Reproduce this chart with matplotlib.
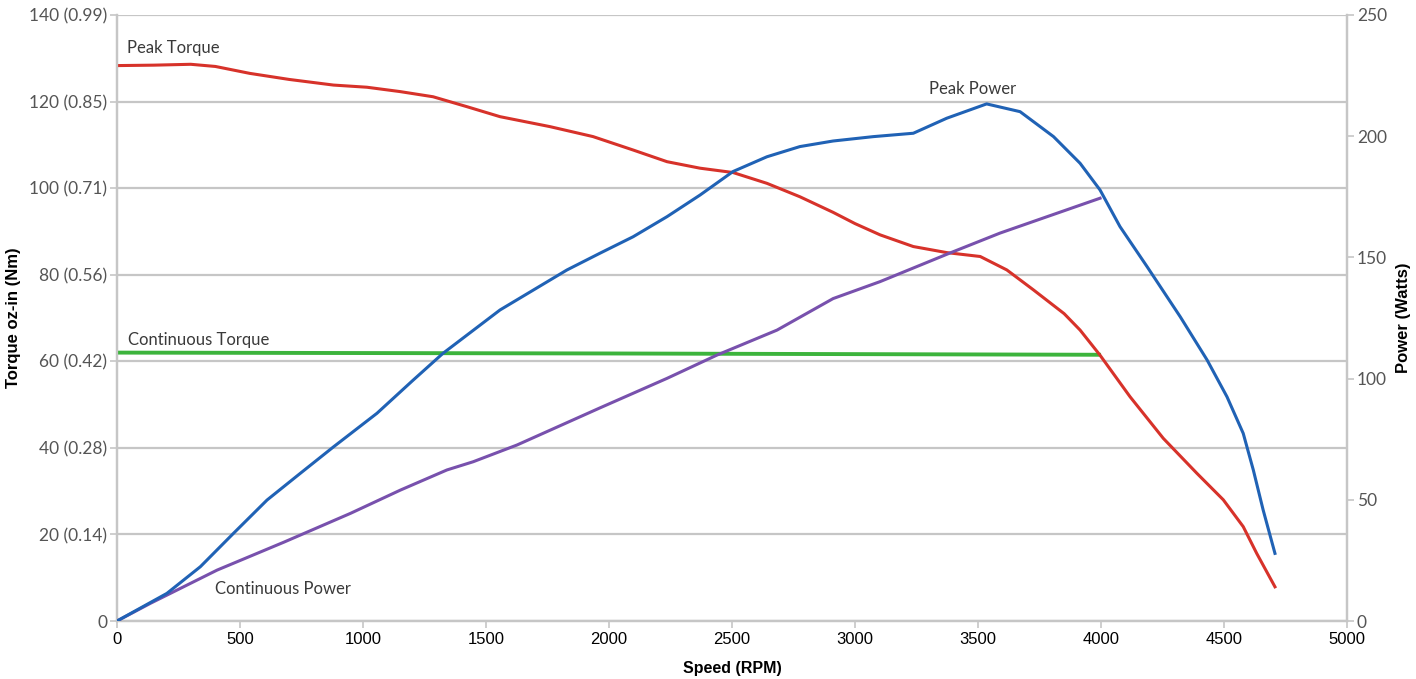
import matplotlib
matplotlib.use("Agg")
import matplotlib.pyplot as plt

# ---- data ----
peak_torque_rpm = [0, 150, 300, 400, 540, 700, 880, 1016, 1150, 1285, 1423, 1557, 1760, 1935,
                   2098, 2236, 2370, 2504, 2642, 2776, 2911, 3000, 3102, 3237, 3373, 3509, 3617,
                   3725, 3850, 3915, 3996, 4118, 4253, 4390, 4497, 4578, 4633, 4707]
peak_torque = [128.3, 128.4, 128.6, 128.1, 126.5, 125.1, 123.8, 123.3, 122.3, 121.1, 118.8, 116.5,
               114.2, 111.9, 108.8, 106.1, 104.6, 103.6, 101.1, 98.0, 94.4, 91.8, 89.2, 86.5, 85.1,
               84.2, 81.1, 76.5, 71.0, 67.2, 61.4, 51.8, 42.2, 34.1, 28.0, 21.8, 15.6, 7.9]

cont_torque_rpm = [0, 2000, 4000]
cont_torque = [62.0, 61.8, 61.5]

peak_power_rpm = [0, 203, 339, 474, 610, 745, 881, 1057, 1200, 1325, 1557, 1829, 1963, 2098,
                  2236, 2370, 2504, 2642, 2776, 2911, 3074, 3237, 3373, 3535, 3671, 3807, 3915,
                  3996, 4077, 4187, 4322, 4431, 4512, 4578, 4619, 4659, 4707]
peak_power = [0, 11.4, 22.4, 36.2, 49.9, 60.9, 71.9, 85.7, 99.0, 110.4, 128.3, 144.8, 151.7, 158.5,
              166.8, 175.7, 185.4, 191.5, 195.7, 198.0, 199.8, 201.2, 207.4, 213.3, 210.1, 199.8,
              188.8, 177.8, 162.7, 146.2, 125.5, 107.7, 92.5, 77.4, 62.3, 45.8, 27.9]

cont_power_rpm = [0, 136, 407, 678, 949, 1152, 1341, 1448, 1626, 1963, 2236, 2439, 2683, 2911,
                  3102, 3386, 3589, 3996]
cont_power = [0, 7.3, 21.0, 32.5, 44.4, 54.0, 62.3, 65.7, 72.6, 87.9, 100.1, 109.7, 120.0, 133.0,
              140.0, 151.8, 160.0, 174.4]

x_ticks = [0, 500, 1000, 1500, 2000, 2500, 3000, 3500, 4000, 4500, 5000]
torque_ticks = [0, 20, 40, 60, 80, 100, 120, 140]
torque_labels = ["0", "20 (0.14)", "40 (0.28)", "60 (0.42)", "80 (0.56)", "100 (0.71)",
                 "120 (0.85)", "140 (0.99)"]
power_ticks = [0, 50, 100, 150, 200, 250]

# ---- style ----
RED = "#d7322a"
BLUE = "#2062b5"
PURPLE = "#7851ad"
GREEN = "#3cb43c"
GRID = "#c6c6c6"
LBL = "#555555"
ANN_FONT = ["Lato", "DejaVu Sans"]

fig = plt.figure(figsize=(14.16, 6.79), dpi=100)
ax = fig.add_axes([0.0826, 0.0854, 0.8687, 0.8926])
ax2 = ax.twinx()

ax.set_xlim(0, 5000)
ax.set_ylim(0, 140)
ax2.set_ylim(0, 250)

ax.set_yticks(torque_ticks)
ax.set_yticklabels(torque_labels, fontfamily=ANN_FONT, fontsize=12.5, color=LBL)
ax.set_xticks(x_ticks)
ax.set_xticklabels([str(v) for v in x_ticks], fontfamily="Liberation Sans", fontsize=12, color="black")
ax2.set_yticks(power_ticks)
ax2.set_yticklabels([str(v) for v in power_ticks], fontfamily=ANN_FONT, fontsize=12.5, color=LBL)

ax.yaxis.grid(True, color=GRID, linewidth=1.6)
ax.set_axisbelow(True)
for a in (ax, ax2):
    for s in a.spines.values():
        s.set_color(GRID)
        s.set_linewidth(1.6)
    a.spines["top"].set_visible(False)
ax.tick_params(axis="x", direction="out", length=5, width=1.2, color=GRID, pad=3)
ax.tick_params(axis="y", direction="out", length=5, width=1.2, color=GRID, pad=2)
ax2.tick_params(axis="y", direction="out", length=5, width=1.2, color=GRID, pad=2)

lw = 2.2
ax.plot(cont_torque_rpm, cont_torque, color=GREEN, lw=lw + 0.6, solid_capstyle="butt", zorder=3)
ax.plot(peak_torque_rpm, peak_torque, color=RED, lw=lw, zorder=4, solid_joinstyle="round")
ax2.plot(cont_power_rpm, cont_power, color=PURPLE, lw=lw, zorder=4, solid_joinstyle="round")
ax2.plot(peak_power_rpm, peak_power, color=BLUE, lw=lw, zorder=5, solid_joinstyle="round")

ann_kw = dict(fontfamily=ANN_FONT, fontsize=12, color="#3a3a3a")
ax.text(40, 132.4, "Peak Torque", ha="left", va="center", **ann_kw)
ax.text(45, 64.8, "Continuous Torque", ha="left", va="center", **ann_kw)
ax.text(3300, 123.0, "Peak Power", ha="left", va="center", **ann_kw)
ax.text(400, 7.4, "Continuous Power", ha="left", va="center", **ann_kw)

ax.set_xlabel("Speed (RPM)", fontfamily="Liberation Sans", fontsize=11.5, fontweight="bold")
ax.xaxis.set_label_coords(0.5, -0.066)
ax.set_ylabel("Torque oz-in (Nm)", fontfamily="Liberation Sans", fontsize=12, fontweight="bold")
ax.yaxis.set_label_coords(-0.078, 0.5)
ax2.set_ylabel("Power (Watts)", fontfamily="Liberation Sans", fontsize=12, fontweight="bold")
ax2.yaxis.set_label_coords(1.04, 0.5)

fig.savefig("out.png", dpi=100)
